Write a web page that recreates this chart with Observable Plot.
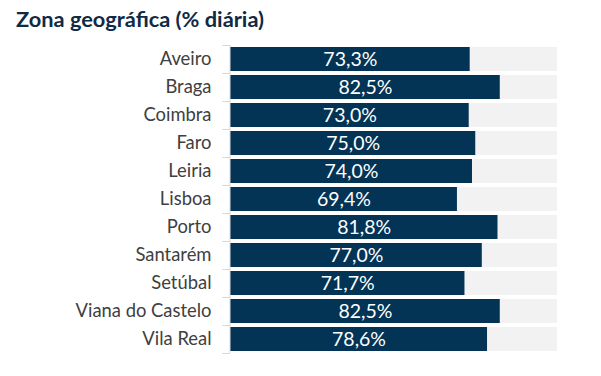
<!DOCTYPE html>
<html><head><meta charset="utf-8">
<script src="https://cdn.jsdelivr.net/npm/d3@7"></script>
<script src="https://cdn.jsdelivr.net/npm/@observablehq/plot@0.6"></script>
<style>
body{margin:0;background:#fff;}
#title{font-family:Lato;font-weight:bold;font-size:21.8px;color:#0e2a47;position:absolute;left:16px;top:5px;white-space:nowrap;}
#chart{position:absolute;left:0;top:40px;}
</style></head><body>
<div id="title">Zona geográfica (% diária)</div>
<div id="chart"></div>
<script>
const categories = ["Aveiro","Braga","Coimbra","Faro","Leiria","Lisboa","Porto","Santarém","Setúbal","Viana do Castelo","Vila Real"];
const values = [73.3, 82.5, 73.0, 75.0, 74.0, 69.4, 81.8, 77.0, 71.7, 82.5, 78.6];
const maxValue = 100;
const data = categories.map((c,i)=>({zona:c, valor: values[i]}));
const fmt = v => v.toFixed(1).replace(".", ",") + "%";
const plot = Plot.plot({
  width:601, height:336, marginTop:5, marginBottom:23, marginLeft:230, marginRight:44,
  style:{fontFamily:"Lato", fontSize:"18px", background:"transparent"},
  x:{domain:[0,100], axis:null},
  y:{domain:categories, paddingInner:0.14, paddingOuter:0.07, label:null, axis:null},
  marks:[
    Plot.barX(data, {y:"zona", x: ()=>maxValue, fill:"#f2f2f2"}),
    Plot.barX(data, {y:"zona", x:"valor", fill:"#033456"}),
    Plot.text(data, {y:"zona", x: d=>d.valor/2, text: d=>fmt(d.valor), fill:"white", fontSize:19.5}),
    Plot.ruleX([0], {stroke:"#d9d9d9", dx:-0.5}),
    Plot.ruleY(categories, {y: d=>d, x1:-2.4, x2:0, stroke:"#d9d9d9", dy:-14}),
    Plot.ruleY([categories[categories.length-1]], {y: d=>d, x1:-2.4, x2:0, stroke:"#d9d9d9", dy:14}),
    Plot.axisY({tickSize:0, tickPadding:19, fontSize:18.4, color:"#404040", label:null})
  ]
});
document.getElementById("chart").appendChild(plot);
</script>
</body></html>
